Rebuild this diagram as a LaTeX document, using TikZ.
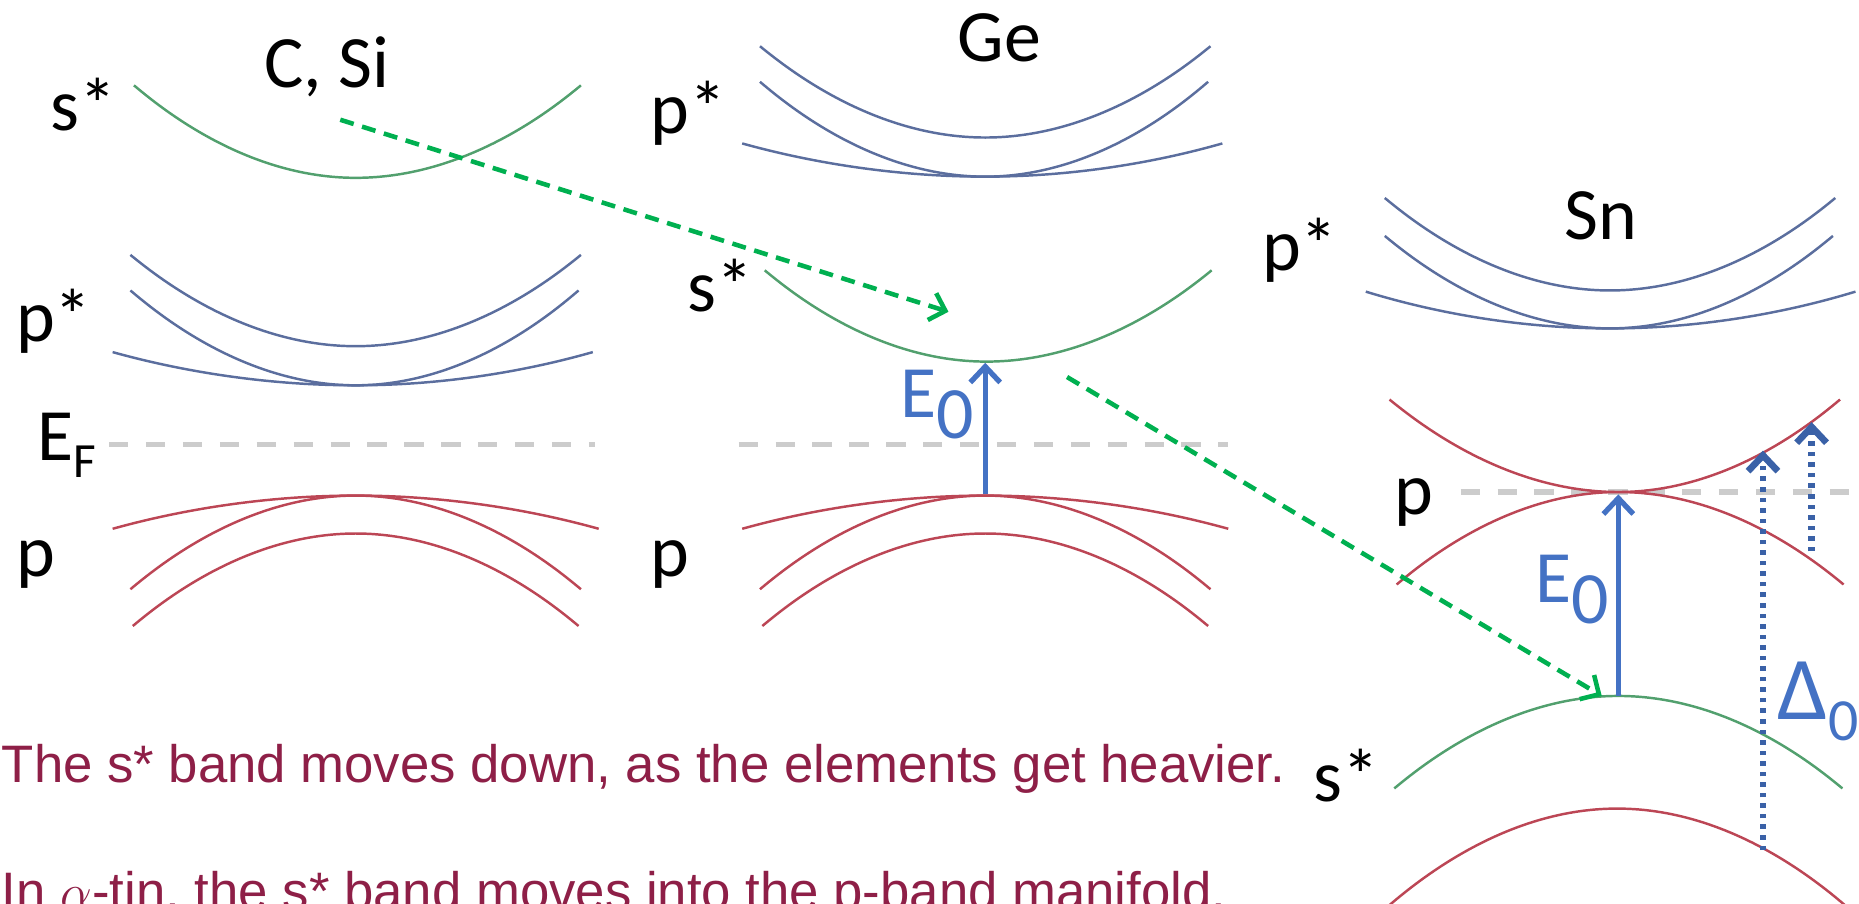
\documentclass[tikz,border=0pt]{standalone}
\usepackage{fontspec}
\setmainfont{Carlito}
\newfontfamily\notefont{Liberation Sans}
\usepackage{xcolor}
\definecolor{CGreen}{HTML}{52A06E}
\definecolor{CBlue}{HTML}{5B6E9E}
\definecolor{CRed}{HTML}{BC4655}
\definecolor{CArrow}{HTML}{4472C4}
\definecolor{CShift}{HTML}{00B050}
\definecolor{CFermi}{HTML}{CCCCCC}
\definecolor{CNote}{HTML}{8E1F47}
\usetikzlibrary{arrows.meta}
\tikzstyle{sBand}=[draw=CGreen, line width=0.7pt]
\tikzstyle{pStarBand}=[draw=CBlue, line width=0.7pt]
\tikzstyle{pBand}=[draw=CRed, line width=0.7pt]
\tikzstyle{fermiLine}=[draw=CFermi, line width=1.6pt, dash pattern=on 5.5pt off 5pt]
\tikzstyle{shiftArr}=[-{Straight Barb[length=4pt,width=8pt]}, draw=CShift, line width=1.3pt,
  dash pattern=on 4pt off 2.5pt]
\tikzstyle{gapArr}=[-{Straight Barb[length=4.5pt,width=8.5pt]}, draw=CArrow, line width=1.5pt]
\tikzstyle{socArr}=[-{Straight Barb[length=4.5pt,width=8.5pt]}, draw=CArrow!85!black,
  line width=1.9pt, dash pattern=on 1.3pt off 1.7pt]
\tikzstyle{bandLabel}=[inner sep=0pt, font=\fontsize{21}{24}\selectfont]
\tikzstyle{gapLabel}=[bandLabel, text=CArrow]
\tikzstyle{noteText}=[inner sep=0pt, text=CNote, font=\notefont\fontsize{15}{18}\selectfont]

\begin{document}
\begin{tikzpicture}[x=0.011856cm, y=-0.011856cm]
\useasboundingbox (0,0) rectangle (1568,762);
\clip (0,0) rectangle (1568,762);
% C, Si
\node[bandLabel, anchor=base] (csi) at (276,74) {C, Si};
\node[bandLabel, anchor=base west] (csiS) at (42,110) {s*};
\node[bandLabel, anchor=base west] (csiPS) at (13,288) {p*};
\node[bandLabel, anchor=base west] (csiEF) at (31,388) {E\raisebox{-5pt}{\fontsize{14}{14}\selectfont F}};
\node[bandLabel, anchor=base west] (csiP) at (13,486) {p};
\draw[sBand] (113,72) parabola bend (300,150) (490,72);
\draw[pStarBand] (110,215) parabola bend (300,292) (490,215);
\draw[pStarBand] (110,245) parabola bend (300,325) (488,245);
\draw[pStarBand] (95,297) parabola bend (300,325) (500,297);
\draw[fermiLine] (92,375) -- (502,375);
\draw[pBand] (95,446) parabola bend (300,418) (505,446);
\draw[pBand] (110,497) parabola bend (300,418) (490,497);
\draw[pBand] (112,528) parabola bend (300,450) (488,528);
% Ge
\node[bandLabel, anchor=base] (ge) at (843,52) {Ge};
\node[bandLabel, anchor=base west] (gePS) at (548,113) {p*};
\node[bandLabel, anchor=base west] (geS) at (579,263) {s*};
\node[bandLabel, anchor=base west] (geP) at (548,486) {p};
\begin{scope}[shift={(531,-176)}]
\draw[pStarBand] (110,215) parabola bend (300,292) (490,215);
\draw[pStarBand] (110,245) parabola bend (300,325) (488,245);
\draw[pStarBand] (95,297) parabola bend (300,325) (500,297);
\end{scope}
\draw[sBand] (645,228) parabola bend (832,305) (1022,228);
\draw[fermiLine] (623,375) -- (1036,375);
\begin{scope}[shift={(531,0)}]
\draw[pBand] (95,446) parabola bend (300,418) (505,446);
\draw[pBand] (110,497) parabola bend (300,418) (490,497);
\draw[pBand] (112,528) parabola bend (300,450) (488,528);
\end{scope}
\coordinate (geVB) at (831,417);
\coordinate (geCB) at (831,306);
\draw[gapArr] (geVB) -- (geCB);
\node[gapLabel, anchor=base east] (geE) at (822,352) {E\raisebox{-6pt}{0}};
% Sn
\node[bandLabel, anchor=base] (sn) at (1350,202) {Sn};
\node[bandLabel, anchor=base west] (snPS) at (1064,228) {p*};
\node[bandLabel, anchor=base west] (snP) at (1176,434) {p};
\node[bandLabel, anchor=base west] (snS) at (1107,676) {s*};
\draw[pStarBand] (1168,167) parabola bend (1358,245) (1548,167);
\draw[pStarBand] (1168,199) parabola bend (1358,277) (1546,199);
\draw[pStarBand] (1152,246) parabola bend (1358,277) (1565,246);
\draw[fermiLine] (1232,415) -- (1568,415);
\draw[pBand] (1172,337) parabola bend (1365,415) (1552,337);
\draw[pBand] (1178,493) parabola bend (1365,415) (1555,493);
\draw[sBand] (1176,665) parabola bend (1365,587) (1554,665);
\draw[pBand] (1160,774) parabola bend (1364,682) (1568,774);
\coordinate (snSB) at (1365,587);
\coordinate (snPB) at (1365,417);
\draw[gapArr] (snSB) -- (snPB);
\node[gapLabel, anchor=base east] (snE) at (1358,508) {E\raisebox{-6pt}{0}};
\coordinate (socLow) at (1487,717);
\coordinate (socHigh) at (1487,380);
\coordinate (socLowB) at (1528,465);
\coordinate (socHighB) at (1528,356);
\draw[socArr] (socLow) -- (socHigh);
\draw[socArr] (socLowB) -- (socHighB);
\node[gapLabel, anchor=base west] (snD) at (1499,607) {{\fontsize{25.5}{26}\selectfont Δ}\raisebox{-6pt}{\fontsize{17}{17}\selectfont 0}};
% s* shifts down
\coordinate (csiShift) at (287,101);
\coordinate (geShiftIn) at (800,263);
\coordinate (geShiftOut) at (900,318);
\coordinate (snShift) at (1351,587);
\draw[shiftArr] (csiShift) -- (geShiftIn);
\draw[shiftArr] (geShiftOut) -- (snShift);
% notes
\node[noteText, anchor=base west] (noteA) at (1,660) {The s* band moves down, as the elements get heavier.};
\node[noteText, anchor=base west] (noteB) at (1,767) {In $\alpha$-tin, the s* band moves into the p-band manifold.};
\end{tikzpicture}
\end{document}
